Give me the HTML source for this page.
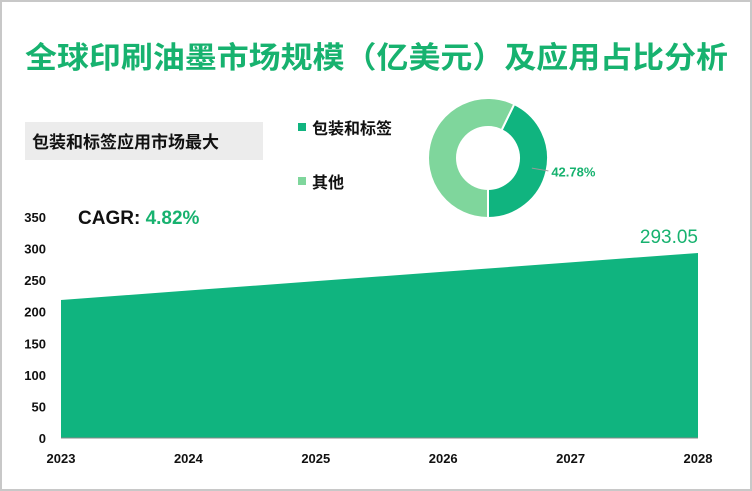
<!DOCTYPE html>
<html><head><meta charset="utf-8"><style>
body{margin:0;width:752px;height:491px;overflow:hidden;background:#fff;font-family:"Liberation Sans","Noto Sans CJK SC",sans-serif;}
#frame{position:absolute;left:0;top:0;width:748px;height:487px;border:2px solid #c8c8c8;}
</style></head><body>
<div id="frame"></div>
<svg width="752" height="491" style="position:absolute;left:0;top:0">
<text x="25" y="68" font-size="30" font-weight="bold" fill="#17b26f" textLength="703" lengthAdjust="spacingAndGlyphs" font-family="Liberation Sans, Noto Sans CJK SC, sans-serif">全球印刷油墨市场规模（亿美元）及应用占比分析</text>
<rect x="25" y="122" width="238" height="38" fill="#ececec"/>
<text x="32" y="148" font-size="17" font-weight="bold" fill="#111">包装和标签应用市场最大</text>
<rect x="298" y="123" width="8" height="8" fill="#10b47f"/>
<text x="312" y="134" font-size="16" font-weight="bold" fill="#111">包装和标签</text>
<rect x="298" y="177" width="8" height="8" fill="#7fd69c"/>
<text x="312" y="188" font-size="16" font-weight="bold" fill="#111">其他</text>
<g id="donut"></g>
<text x="78" y="224" font-size="19" font-weight="bold" fill="#111">CAGR: <tspan fill="#17b26f">4.82%</tspan></text>
<g id="area"></g>
</svg>
<script>
const years=["2023","2024","2025","2026","2027","2028"];
const values=[218.6,233.5,248.4,263.2,278.1,293.05];
const yTicks=[0,50,100,150,200,250,300,350];
const shareLabels=["包装和标签","其他"];
const shares=[42.78,57.22];
const NS="http://www.w3.org/2000/svg";
function mk(t,a){const e=document.createElementNS(NS,t);for(const k in a)e.setAttribute(k,a[k]);return e;}
const x0=61,x1=698,yb=438,yt=217,ymax=350;
const X=i=>x0+(x1-x0)*i/(years.length-1);
const Y=v=>yb-(yb-yt)*v/ymax;
const g=document.getElementById('area');
let d=`M${X(0)},${yb}`;values.forEach((v,i)=>d+=` L${X(i)},${Y(v)}`);d+=` L${X(values.length-1)},${yb} Z`;
const p=mk('path',{d:d,fill:'#10b47f'});


g.appendChild(p);
const ax=mk('line',{x1:x0,x2:x1,y1:yb,y2:yb,stroke:'#888','stroke-width':1});


g.appendChild(ax);
yTicks.forEach(t=>{const e=mk('text',{x:46,y:Y(t)+5,'text-anchor':'end','font-size':13,'font-weight':'bold',fill:'#111'});e.textContent=t;


g.appendChild(e);});
years.forEach((y,i)=>{const e=mk('text',{x:X(i),y:463,'text-anchor':'middle','font-size':13,'font-weight':'bold',fill:'#111'});e.textContent=y;


g.appendChild(e);});
const last=values.length-1;
const lv=mk('text',{x:X(last),y:Y(values[last])-10,'text-anchor':'end','font-size':19,fill:'#17b26f'});lv.textContent=values[last].toFixed(2);


g.appendChild(lv);
// donut: first slice ends at bottom (clockwise)
const dg=document.getElementById('donut');
const cx=488,cy=158,R=60,r=31,cols=['#10b47f','#7fd69c'];
const tot=shares.reduce((a,b)=>a+b,0);
let a0=Math.PI/2-2*Math.PI*shares[0]/tot;
const start=a0;
shares.forEach((s,i)=>{const a1=a0+2*Math.PI*s/tot;const lg=(a1-a0)>Math.PI?1:0;
const P=(rr,a)=>`${cx+rr*Math.cos(a)},${cy+rr*Math.sin(a)}`;
const e=mk('path',{d:`M${P(R,a0)} A${R},${R} 0 ${lg} 1 ${P(R,a1)} L${P(r,a1)} A${r},${r} 0 ${lg} 0 ${P(r,a0)} Z`,fill:cols[i],stroke:'#fff','stroke-width':2});


dg.appendChild(e);a0=a1;});
const am=start+Math.PI*shares[0]/tot;
const ln=mk('line',{x1:cx+45*Math.cos(am),y1:cy+45*Math.sin(am),x2:cx+62*Math.cos(am),y2:cy+62*Math.sin(am)-1,stroke:'#999'});


dg.appendChild(ln);
const pl=mk('text',{x:cx+65*Math.cos(am),y:cy+65*Math.sin(am)+4,'font-size':13,'font-weight':'bold',fill:'#17b26f'});pl.textContent=shares[0].toFixed(2)+'%';


dg.appendChild(pl);
</script>
</body></html>
